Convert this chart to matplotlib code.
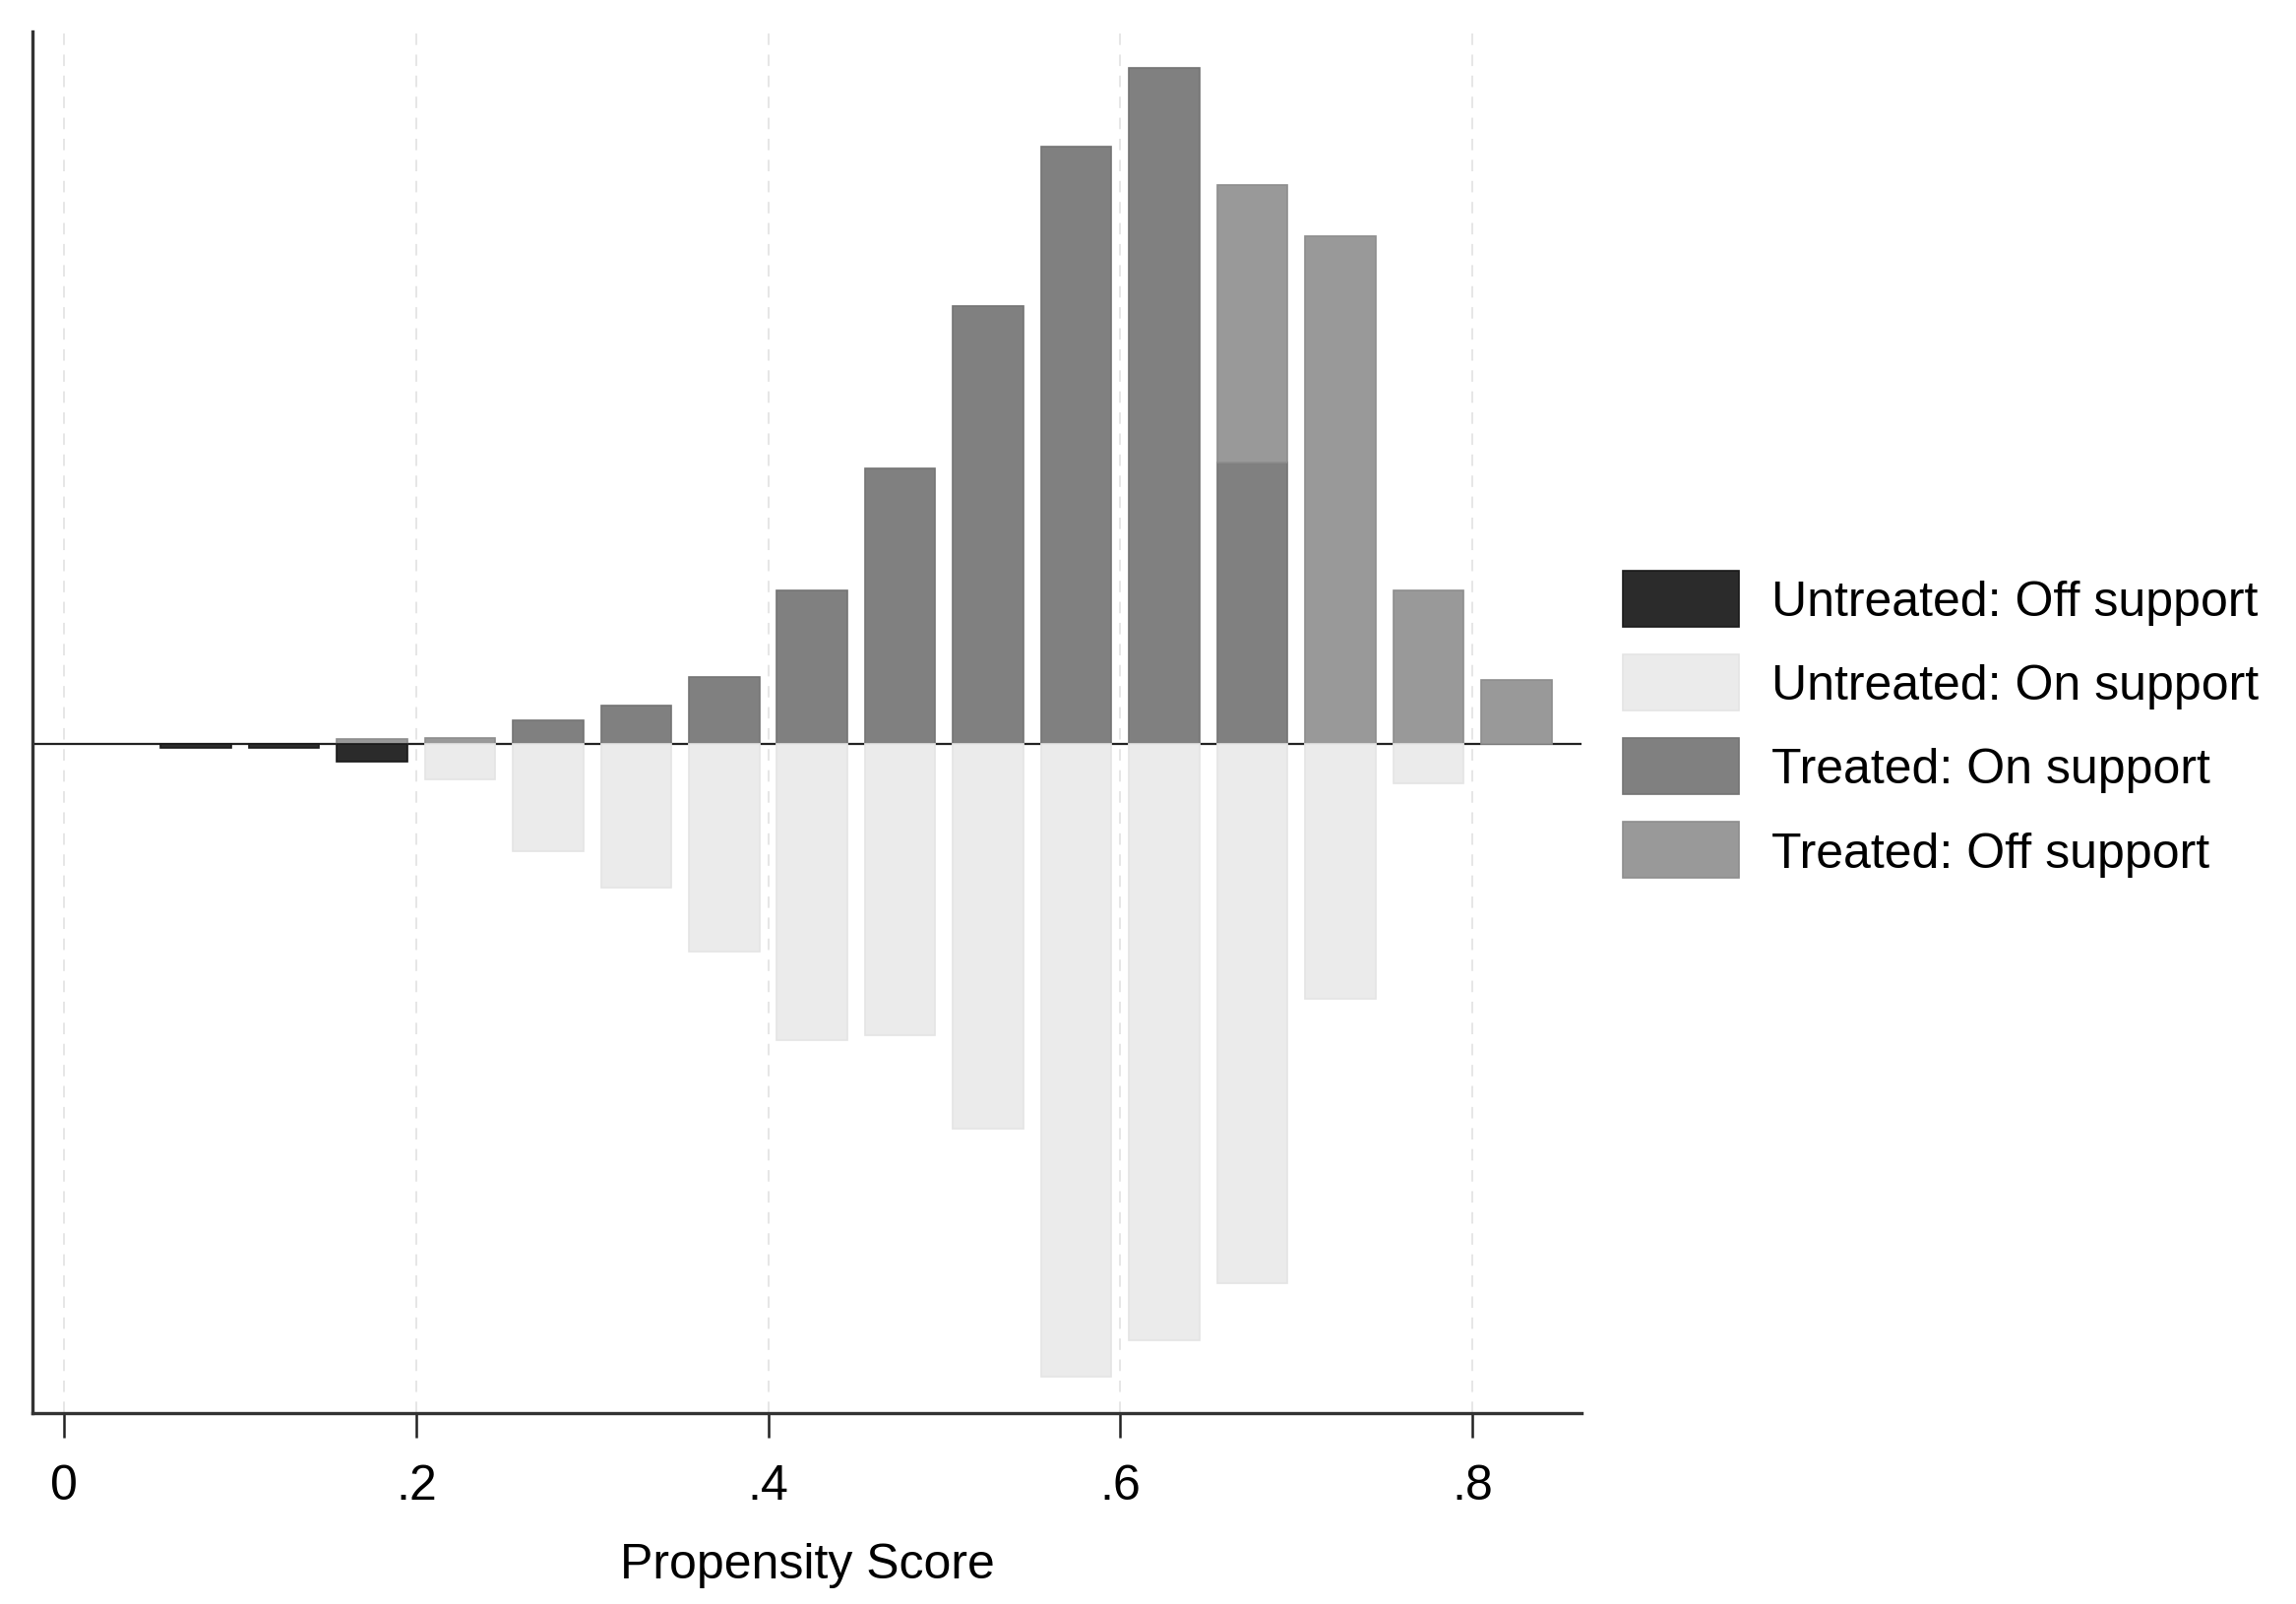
import numpy as np
import matplotlib
matplotlib.use("Agg")
import matplotlib.pyplot as plt
from matplotlib.patches import Patch

plt.rcParams["font.family"] = ["Liberation Sans", "DejaVu Sans"]

# bin centres of the propensity score histogram (bin width .05)
bins = [0.075, 0.125, 0.175, 0.225, 0.275, 0.325, 0.375, 0.425,
        0.475, 0.525, 0.575, 0.625, 0.675, 0.725, 0.775, 0.825]

# heights (arbitrary frequency units)
treated_on = [0, 0, 0, 0, 1.6, 2.6, 4.6, 10.5, 18.8, 29.9, 40.8, 46.2, 19.2, 0, 0, 0]
treated_off = [0, 0, 0.32, 0.38, 0, 0, 0, 0, 0, 0, 0, 0, 19.0, 34.7, 10.5, 4.4]
untreated_on = [0, 0, 0, 2.4, 7.3, 9.8, 14.2, 20.2, 19.9, 26.3, 43.2, 40.7, 36.8, 17.4, 2.7, 0]
untreated_off = [0.3, 0.3, 1.2, 0, 0, 0, 0, 0, 0, 0, 0, 0, 0, 0, 0, 0]

labels = ["Untreated: Off support", "Untreated: On support",
          "Treated: On support", "Treated: Off support"]
colors = ["#2b2b2b", "#ebebeb", "#808080", "#999999"]
edges = ["#1a1a1a", "#e4e4e4", "#747474", "#8e8e8e"]

x = np.array(bins)
t_on = np.array(treated_on)
t_off = np.array(treated_off)
u_on = np.array(untreated_on)
u_off = np.array(untreated_off)

fig = plt.figure(figsize=(23.33, 16.31), dpi=100)
ax = fig.add_axes([0.01414, 0.1189, 0.6888 - 0.01414, 0.9798 - 0.1189])

w = 0.04


def draw(heights, bottom, k):
    m = heights != 0
    ax.bar(x[m], heights[m], width=w, bottom=bottom[m], color=colors[k],
           edgecolor=edges[k], linewidth=1.2, zorder=3)


zero = np.zeros_like(x)
draw(t_on, zero, 2)
draw(t_off, t_on, 3)
draw(-u_on, zero, 1)
draw(-u_off, -u_on, 0)

ax.axhline(0, color="#222222", linewidth=1.6, zorder=2)

ax.set_xlim(-0.0179, 0.862)
ax.set_ylim(-45.7, 48.66)
ax.set_xticks([0, 0.2, 0.4, 0.6, 0.8])
ax.set_xticklabels(["0", ".2", ".4", ".6", ".8"])
ax.set_yticks([])
ax.tick_params(axis="x", direction="out", length=18, width=1.8, color="#222222",
               labelsize=36, pad=19)
ax.grid(axis="x", color="#e6e6e6", linestyle=(0, (6, 5)), linewidth=1.4, zorder=0)
ax.set_axisbelow(True)

for s in ["top", "right"]:
    ax.spines[s].set_visible(False)
for s in ["left", "bottom"]:
    ax.spines[s].set_linewidth(2.4)
    ax.spines[s].set_color("#333333")

ax.set_xlabel("Propensity Score", fontsize=36, labelpad=24)

handles = [Patch(facecolor=c, edgecolor=e, linewidth=1.2) for c, e in zip(colors, edges)]
fig.legend(handles, labels, loc="upper left", bbox_to_anchor=(1649 / 2333, 1 - 581 / 1631),
           frameon=False, fontsize=36, handlelength=2.36, handleheight=1.38,
           labelspacing=0.56, handletextpad=0.65, borderpad=0, borderaxespad=0)

fig.savefig("out.png", dpi=100, facecolor="white")
